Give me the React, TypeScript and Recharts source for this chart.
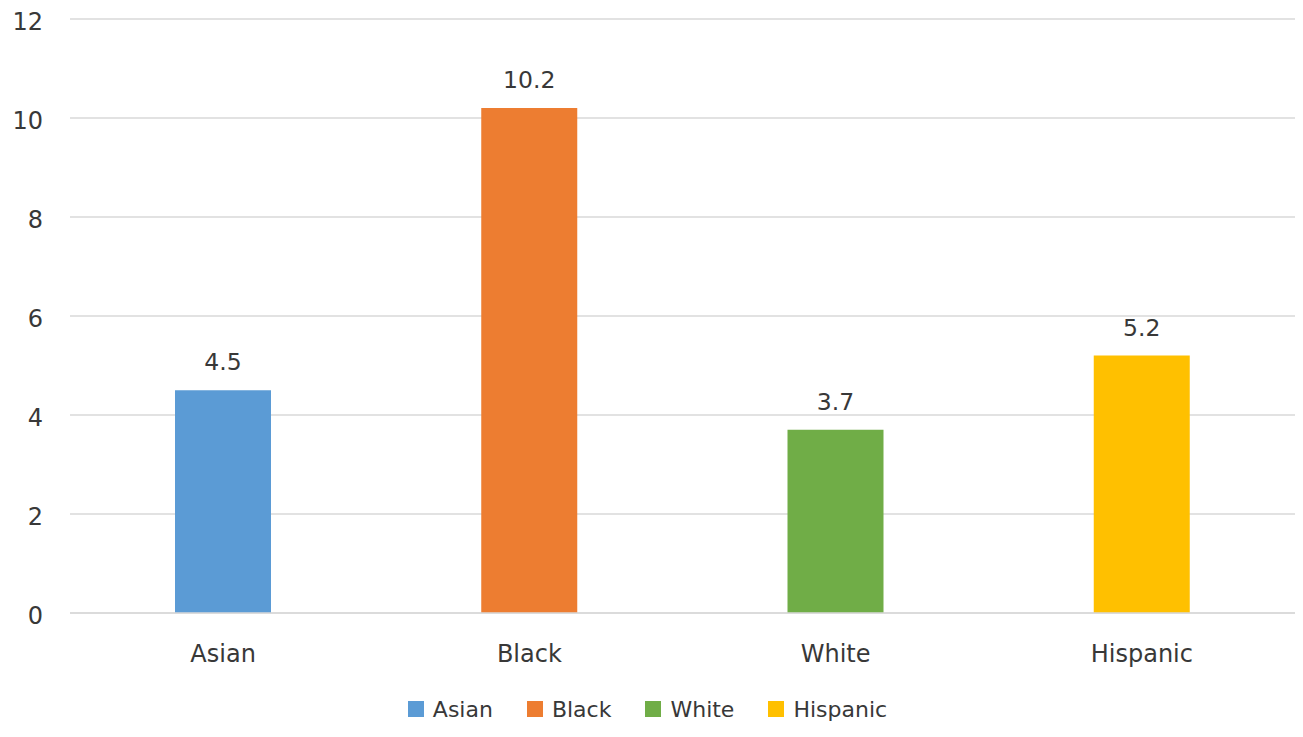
import React from 'react';
import { BarChart, Bar, XAxis, YAxis, CartesianGrid, Cell, LabelList, Legend } from 'recharts';

const groups = ['Asian', 'Black', 'White', 'Hispanic'];
const rates = [4.5, 10.2, 3.7, 5.2];
const colors = ['#5B9BD5', '#ED7D31', '#70AD47', '#FFC000'];
const yTicks = [0, 2, 4, 6, 8, 10, 12];

const rows = groups.map((name, i) => ({ name, value: rates[i] }));

const FONT = '"DejaVu Sans", sans-serif';
const TEXT = '#383838';

const LegendBox = () => (
  <div
    style={{
      display: 'flex',
      justifyContent: 'center',
      alignItems: 'center',
      height: 40,
      fontFamily: FONT,
      fontSize: 22,
      color: TEXT,
    }}
  >
    {groups.map((g, i) => (
      <div key={g} style={{ display: 'flex', alignItems: 'center', marginRight: i < groups.length - 1 ? 34 : 0 }}>
        <span style={{ width: 16, height: 16, background: colors[i], display: 'inline-block', marginRight: 9 }} />
        <span>{g}</span>
      </div>
    ))}
  </div>
);

export default function App() {
  return (
    <div style={{ position: 'absolute', left: 0, top: 0, background: '#fff' }}>
      <BarChart
        width={1303}
        height={737}
        data={rows}
        margin={{ top: 19, right: 8, bottom: 8, left: 0 }}
      >
        <CartesianGrid horizontal vertical={false} stroke="#D9D9D9" strokeWidth={1.5} />
        <XAxis
          dataKey="name"
          axisLine={{ stroke: '#D9D9D9', strokeWidth: 1.5 }}
          tickLine={false}
          tickSize={0}
          tickMargin={32}
          height={76}
          tick={{ fontFamily: FONT, fontSize: 24, fill: TEXT }}
        />
        <YAxis
          width={70}
          domain={[0, 12]}
          ticks={yTicks}
          axisLine={false}
          tickLine={false}
          tickSize={0}
          tickMargin={27}
          tick={{ fontFamily: FONT, fontSize: 24, fill: TEXT, dy: 2 }}
        />
        <Legend verticalAlign="bottom" content={() => <LegendBox />} />
        <Bar dataKey="value" barSize={96} isAnimationActive={false}>
          {rows.map((r, i) => (
            <Cell key={r.name} fill={colors[i]} />
          ))}
          <LabelList
            dataKey="value"
            position="top"
            offset={20}
            style={{ fontFamily: FONT, fontSize: 23.5, fill: TEXT }}
          />
        </Bar>
      </BarChart>
    </div>
  );
}
